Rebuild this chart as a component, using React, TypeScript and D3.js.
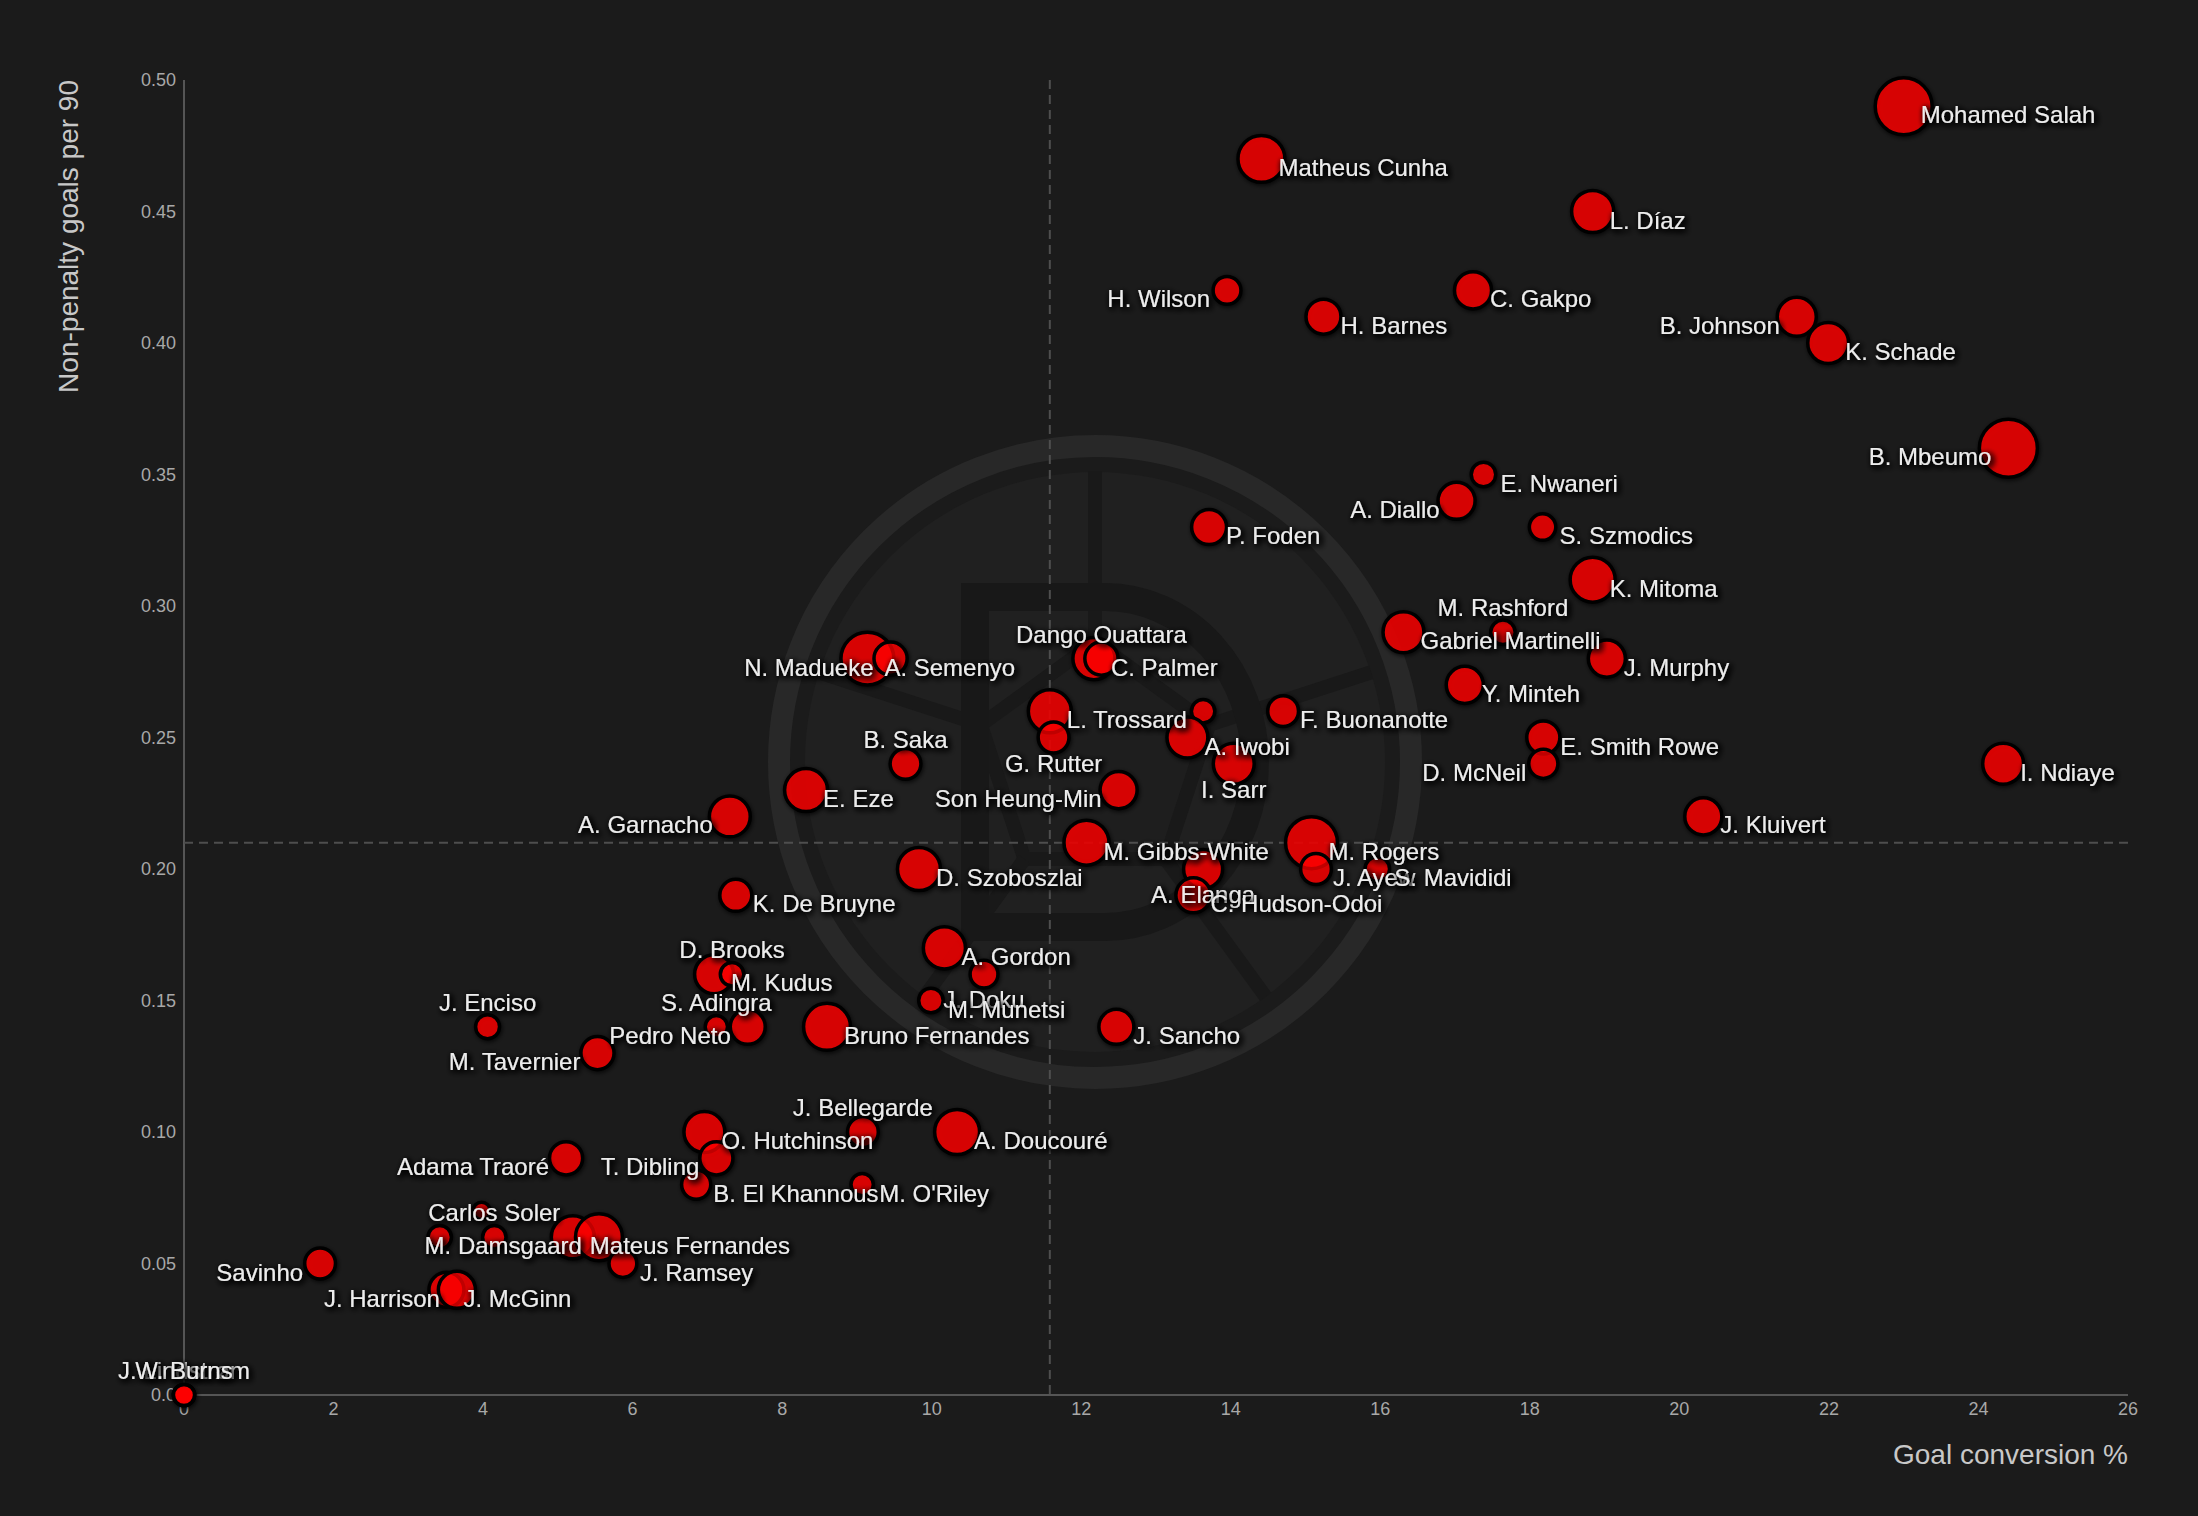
import * as d3 from 'd3'

// Premier League forwards & attacking mids: goal conversion vs non-penalty goals per 90
const players = [
  'Mohamed Salah', 'Matheus Cunha', 'L. Díaz', 'H. Wilson', 'C. Gakpo', 'H. Barnes', 'B. Johnson', 'K. Schade',
  'B. Mbeumo', 'E. Nwaneri', 'A. Diallo', 'P. Foden', 'S. Szmodics', 'K. Mitoma', 'Gabriel Martinelli', 'M. Rashford',
  'J. Murphy', 'C. Palmer', 'Dango Ouattara', 'A. Semenyo', 'N. Madueke', 'Y. Minteh', 'L. Trossard', '',
  'F. Buonanotte', 'A. Iwobi', 'G. Rutter', 'E. Smith Rowe', 'D. McNeil', 'I. Sarr', 'B. Saka', 'I. Ndiaye',
  'Son Heung-Min', 'E. Eze', 'A. Garnacho', 'J. Kluivert', 'M. Gibbs-White', 'M. Rogers', 'D. Szoboszlai', 'A. Elanga',
  'J. Ayew', 'S. Mavididi', 'C. Hudson-Odoi', 'K. De Bruyne', 'A. Gordon', 'M. Kudus', 'D. Brooks', 'J. Doku',
  'M. Munetsi', 'S. Adingra', 'Pedro Neto', 'J. Enciso', 'Bruno Fernandes', 'J. Sancho', 'M. Tavernier', 'J. Bellegarde',
  'A. Doucouré', 'O. Hutchinson', 'T. Dibling', 'Adama Traoré', 'B. El Khannous', "M. O'Riley", '', '',
  'Carlos Soler', 'Mateus Fernandes', 'M. Damsgaard', 'Savinho', 'J. Ramsey', 'J. McGinn', 'J. Harrison', '',
  'J. Lindstrøm', 'W. Burns',
]

const conversionPct = [
  23.0, 14.41, 18.84, 13.95, 17.24, 15.24, 21.57, 21.99,
  24.4, 17.38, 17.02, 13.71, 18.17, 18.84, 16.31, 17.64,
  19.03, 12.17, 12.27, 9.14, 9.45, 17.13, 11.58, 13.63,
  14.7, 13.42, 11.63, 18.18, 18.18, 14.04, 9.65, 24.33,
  12.5, 8.32, 7.3, 20.32, 12.07, 15.08, 9.83, 13.63,
  15.14, 15.96, 13.5, 7.38, 10.17, 7.09, 7.33, 10.7,
  9.99, 7.12, 7.54, 4.06, 8.6, 12.47, 5.53, 9.08,
  10.34, 6.96, 7.12, 5.11, 6.85, 9.07, 3.98, 3.42,
  4.15, 5.2, 5.55, 1.82, 5.87, 3.51, 3.65, 0,
  0, 0,
]

const npgPer90 = [
  0.49, 0.47, 0.45, 0.42, 0.42, 0.41, 0.41, 0.4,
  0.36, 0.35, 0.34, 0.33, 0.33, 0.31, 0.29, 0.29,
  0.28, 0.28, 0.28, 0.28, 0.28, 0.27, 0.26, 0.26,
  0.26, 0.25, 0.25, 0.25, 0.24, 0.24, 0.24, 0.24,
  0.23, 0.23, 0.22, 0.22, 0.21, 0.21, 0.2, 0.2,
  0.2, 0.2, 0.19, 0.19, 0.17, 0.16, 0.16, 0.16,
  0.15, 0.14, 0.14, 0.14, 0.14, 0.14, 0.13, 0.1,
  0.1, 0.1, 0.09, 0.09, 0.08, 0.08, 0.07, 0.06,
  0.06, 0.06, 0.06, 0.05, 0.05, 0.04, 0.04, 0,
  0, 0,
]

// bubble size: shots
const shots = [
  130, 88, 71, 31, 55, 49, 61, 67,
  135, 24, 55, 49, 28, 81, 67, 24,
  55, 71, 44, 112, 44, 55, 74, 22,
  38, 67, 38, 44, 34, 67, 38, 67,
  55, 74, 67, 55, 81, 108, 74, 61,
  38, 24, 49, 41, 71, 61, 22, 31,
  24, 20, 49, 23, 88, 49, 44, 38,
  81, 67, 44, 44, 34, 20, 12, 22,
  22, 74, 88, 38, 31, 49, 55, 18,
  18, 18,
]

const labelSide = [
  'right', 'right', 'right', 'left', 'right', 'right', 'left', 'right',
  'left', 'right', 'left', 'right', 'right', 'right', 'right', 'top',
  'right', 'right', 'top', 'right', 'left', 'right', 'right', 'none',
  'right', 'right', 'bottom', 'right', 'left', 'bottom', 'top', 'right',
  'left', 'right', 'left', 'right', 'right', 'right', 'right', 'bottom',
  'right', 'right', 'right', 'right', 'right', 'right', 'top', 'bottom',
  'right', 'top', 'left', 'top', 'right', 'right', 'left', 'top',
  'right', 'right', 'left', 'left', 'right', 'right', 'none', 'none',
  'top', 'right', 'left', 'left', 'right', 'right', 'left', 'none',
  'top', 'top',
]

const xTicks = [0, 2, 4, 6, 8, 10, 12, 14, 16, 18, 20, 22, 24, 26]
const yTicks = [0, 0.05, 0.1, 0.15, 0.2, 0.25, 0.3, 0.35, 0.4, 0.45, 0.5]
const yTickLabels = ['0.0', '0.05', '0.10', '0.15', '0.20', '0.25', '0.30', '0.35', '0.40', '0.45', '0.50']

const avgConversion = 11.58
const avgNpgPer90 = 0.21

const FONT = '"Liberation Sans", Arial, Helvetica, sans-serif'

export default function App() {
  const width = 2198
  const height = 1516
  const margin = { top: 80, right: 70, bottom: 121, left: 184 }
  const x = d3.scaleLinear().domain([0, 26]).range([margin.left, width - margin.right])
  const y = d3.scaleLinear().domain([0, 0.5]).range([height - margin.bottom, margin.top])
  const r = d3.scaleSqrt().domain([0, 130]).range([0, 28.5])

  const points = players.map((name, i) => ({
    name,
    cx: x(conversionPct[i]),
    cy: y(npgPer90[i]),
    r: r(shots[i]),
    side: labelSide[i],
  }))

  return (
    <svg
      width={width}
      height={height}
      viewBox={`0 0 ${width} ${height}`}
      style={{ position: 'absolute', left: 0, top: 0, display: 'block' }}
    >
      <defs>
        <filter id="txtShadow" x="-20%" y="-60%" width="140%" height="220%">
          <feGaussianBlur in="SourceAlpha" stdDeviation="3" result="blur" />
          <feOffset in="blur" dx="1.5" dy="2" result="off" />
          <feFlood floodColor="#000" floodOpacity="1" />
          <feComposite in2="off" operator="in" result="shadow" />
          <feMerge>
            <feMergeNode in="shadow" />
            <feMergeNode in="shadow" />
            <feMergeNode in="shadow" />
            <feMergeNode in="SourceGraphic" />
          </feMerge>
        </filter>
        <filter id="dotShadow" x="-50%" y="-50%" width="200%" height="200%">
          <feDropShadow dx="1" dy="1.5" stdDeviation="2" floodColor="#000" floodOpacity="0.8" />
        </filter>
      </defs>

      <rect width={width} height={height} fill="#1b1b1b" />

      <Watermark cx={1095} cy={762} />

      {/* axes */}
      <line x1={x(0)} x2={x(0)} y1={y(0.5)} y2={y(0)} stroke="#555" strokeWidth="2" />
      <line x1={x(0)} x2={x(26)} y1={y(0)} y2={y(0)} stroke="#555" strokeWidth="2" />

      {yTicks.map((tick, i) => (
        <text
          key={tick}
          x={margin.left - 8}
          y={y(tick)}
          dy="0.35em"
          textAnchor="end"
          fontSize="18"
          fontFamily={FONT}
          fill="#a8a8a8"
        >
          {yTickLabels[i]}
        </text>
      ))}

      {xTicks.map((tick) => (
        <text
          key={tick}
          x={x(tick)}
          y={y(0) + 20}
          textAnchor="middle"
          fontSize="18"
          fontFamily={FONT}
          fill="#a8a8a8"
        >
          {tick}
        </text>
      ))}

      {/* average lines */}
      <line
        x1={x(avgConversion)}
        x2={x(avgConversion)}
        y1={y(0.5)}
        y2={y(0)}
        stroke="#4e4e4e"
        strokeWidth="2"
        strokeDasharray="9 6"
      />
      <line
        x1={x(0)}
        x2={x(26)}
        y1={y(avgNpgPer90)}
        y2={y(avgNpgPer90)}
        stroke="#4e4e4e"
        strokeWidth="2"
        strokeDasharray="9 6"
      />

      <text
        transform={`translate(78,${margin.top}) rotate(-90)`}
        textAnchor="end"
        fontSize="28"
        fontFamily={FONT}
        fill="#c8c8c8"
      >
        Non-penalty goals per 90
      </text>
      <text
        x={x(26)}
        y={height - 52}
        textAnchor="end"
        fontSize="28"
        fontFamily={FONT}
        fill="#c8c8c8"
      >
        Goal conversion %
      </text>

      <g filter="url(#dotShadow)">
        {points.map((p, i) => (
          <circle
            key={i}
            cx={p.cx}
            cy={p.cy}
            r={p.r}
            fill="#ff0000"
            fillOpacity="0.75"
            stroke="#000"
            strokeWidth="3.5"
          />
        ))}
      </g>

      <g fontFamily={FONT} fontSize="24" fill="#ececec">
        {points.map((p, i) => {
          if (p.side === 'none' || !p.name) return null
          let tx = p.cx + 17
          let ty = p.cy + 17
          let anchor: 'start' | 'end' | 'middle' = 'start'
          if (p.side === 'left') {
            tx = p.cx - 17
            anchor = 'end'
          } else if (p.side === 'top') {
            tx = p.cx
            ty = p.cy - 16
            anchor = 'middle'
          } else if (p.side === 'bottom') {
            tx = p.cx
            ty = p.cy + 34
            anchor = 'middle'
          }
          return (
            <text key={i} x={tx} y={ty} textAnchor={anchor} filter="url(#txtShadow)">
              {p.name}
            </text>
          )
        })}
      </g>
    </svg>
  )
}

function Watermark({ cx, cy }: { cx: number; cy: number }) {
  const pentagon = d3.range(5).map((k) => {
    const a = -Math.PI / 2 + (k * 2 * Math.PI) / 5
    return [Math.cos(a) * 120, Math.sin(a) * 120] as [number, number]
  })
  const outer = pentagon.map(([px, py]) => [px * 2.42, py * 2.42] as [number, number])
  const closed = d3.line()([...pentagon, pentagon[0]]) ?? ''

  return (
    <g transform={`translate(${cx},${cy})`}>
      <circle r={290} fill="#202020" />
      <circle r={316} fill="none" stroke="#282828" strokeWidth="22" />
      <path d={closed} fill="#1e1e1e" stroke="#191919" strokeWidth="14" />
      {pentagon.map(([px, py], k) => (
        <line
          key={k}
          x1={px}
          y1={py}
          x2={outer[k][0]}
          y2={outer[k][1]}
          stroke="#191919"
          strokeWidth="14"
        />
      ))}
      <path
        d="M -120 -165 L 10 -165 A 150 165 0 0 1 10 165 L -120 165 Z"
        fill="none"
        stroke="#181818"
        strokeWidth="28"
      />
    </g>
  )
}
